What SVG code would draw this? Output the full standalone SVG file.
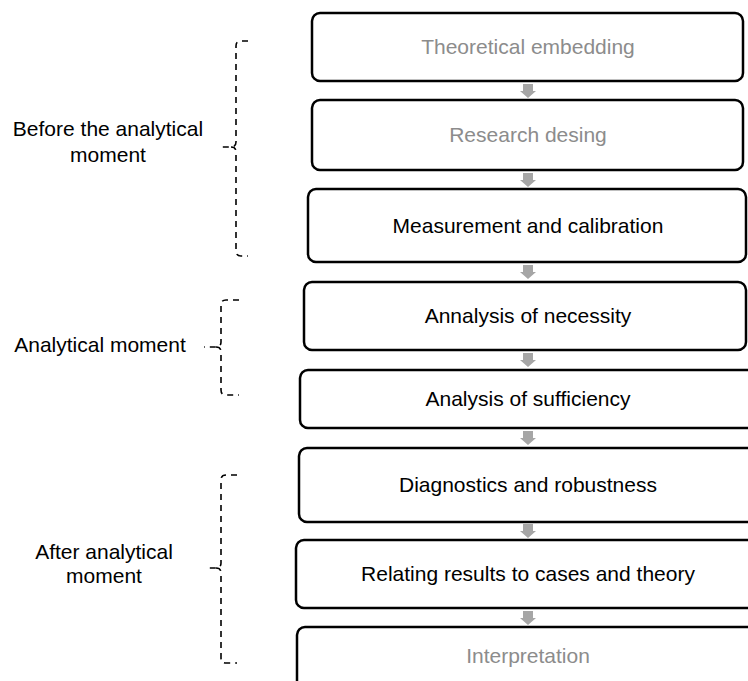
<svg xmlns="http://www.w3.org/2000/svg" width="748" height="681" viewBox="0 0 748 681">
<style>
.box{fill:#fff;stroke:#000;stroke-width:2.5}
.t{font-family:"Liberation Sans",Arial,sans-serif;font-size:21px;text-anchor:middle;fill:#000}
.g{fill:#8c8c8c}
.arr{fill:#a6a6a6;stroke:none}
.brace{fill:none;stroke:#000;stroke-width:1.6;stroke-dasharray:6,5}
</style>
<rect width="748" height="681" fill="#fff"/>
<g id="connectors">
<path class="arr" d="M523,84H533V91H536L528,98L520,91H523Z"/>
<path class="arr" d="M523,173H533V180H536L528,187L520,180H523Z"/>
<path class="arr" d="M523,265H533V272H536L528,279L520,272H523Z"/>
<path class="arr" d="M523,353H533V360H536L528,367L520,360H523Z"/>
<path class="arr" d="M523,431H533V438H536L528,445L520,438H523Z"/>
<path class="arr" d="M523,524H533V531H536L528,538L520,531H523Z"/>
<path class="arr" d="M523,611H533V618H536L528,625L520,618H523Z"/>
</g>
<g id="n1"><rect class="box" x="312" y="13" width="431" height="68" rx="8"/><text class="t g" x="528" y="54">Theoretical embedding</text></g>
<g id="n2"><rect class="box" x="312" y="100" width="431" height="70" rx="8"/><text class="t g" x="528" y="142">Research desing</text></g>
<g id="n3"><rect class="box" x="308" y="189" width="438" height="73" rx="8"/><text class="t" x="528" y="233">Measurement and calibration</text></g>
<g id="n4"><rect class="box" x="304" y="282" width="442" height="68" rx="8"/><text class="t" x="528" y="323">Annalysis of necessity</text></g>
<g id="n5"><rect class="box" x="300" y="370" width="470" height="58" rx="8"/><text class="t" x="528" y="406">Analysis of sufficiency</text></g>
<g id="n6"><rect class="box" x="299" y="448" width="470" height="74" rx="8"/><text class="t" x="528" y="492">Diagnostics and robustness</text></g>
<g id="n7"><rect class="box" x="296" y="540" width="474" height="68" rx="8"/><text class="t" x="528" y="581">Relating results to cases and theory</text></g>
<g id="n8"><rect class="box" x="297" y="627" width="474" height="80" rx="8"/><text class="t g" x="528" y="663">Interpretation</text></g>
<g id="brace1"><path class="brace" d="M248,41 L241,41 Q236,41 236,46 L236,142 Q236,147 231,147 L222,147 M231,147 Q236,147 236,152 L236,251 Q236,256 241,256 L248,256"/><text class="t" x="108" y="136">Before the analytical</text><text class="t" x="108" y="162">moment</text></g>
<g id="brace2"><path class="brace" d="M239,300 L226,300 Q221,300 221,305 L221,342 Q221,347 216,347 L204,347 M216,347 Q221,347 221,352 L221,390 Q221,395 226,395 L239,395"/><text class="t" x="100" y="352">Analytical moment</text></g>
<g id="brace3"><path class="brace" d="M237,475 L226,475 Q221,475 221,480 L221,563 Q221,568 216,568 L207,568 M216,568 Q221,568 221,573 L221,658 Q221,663 226,663 L237,663"/><text class="t" x="104" y="559">After analytical</text><text class="t" x="104" y="583">moment</text></g>
</svg>
